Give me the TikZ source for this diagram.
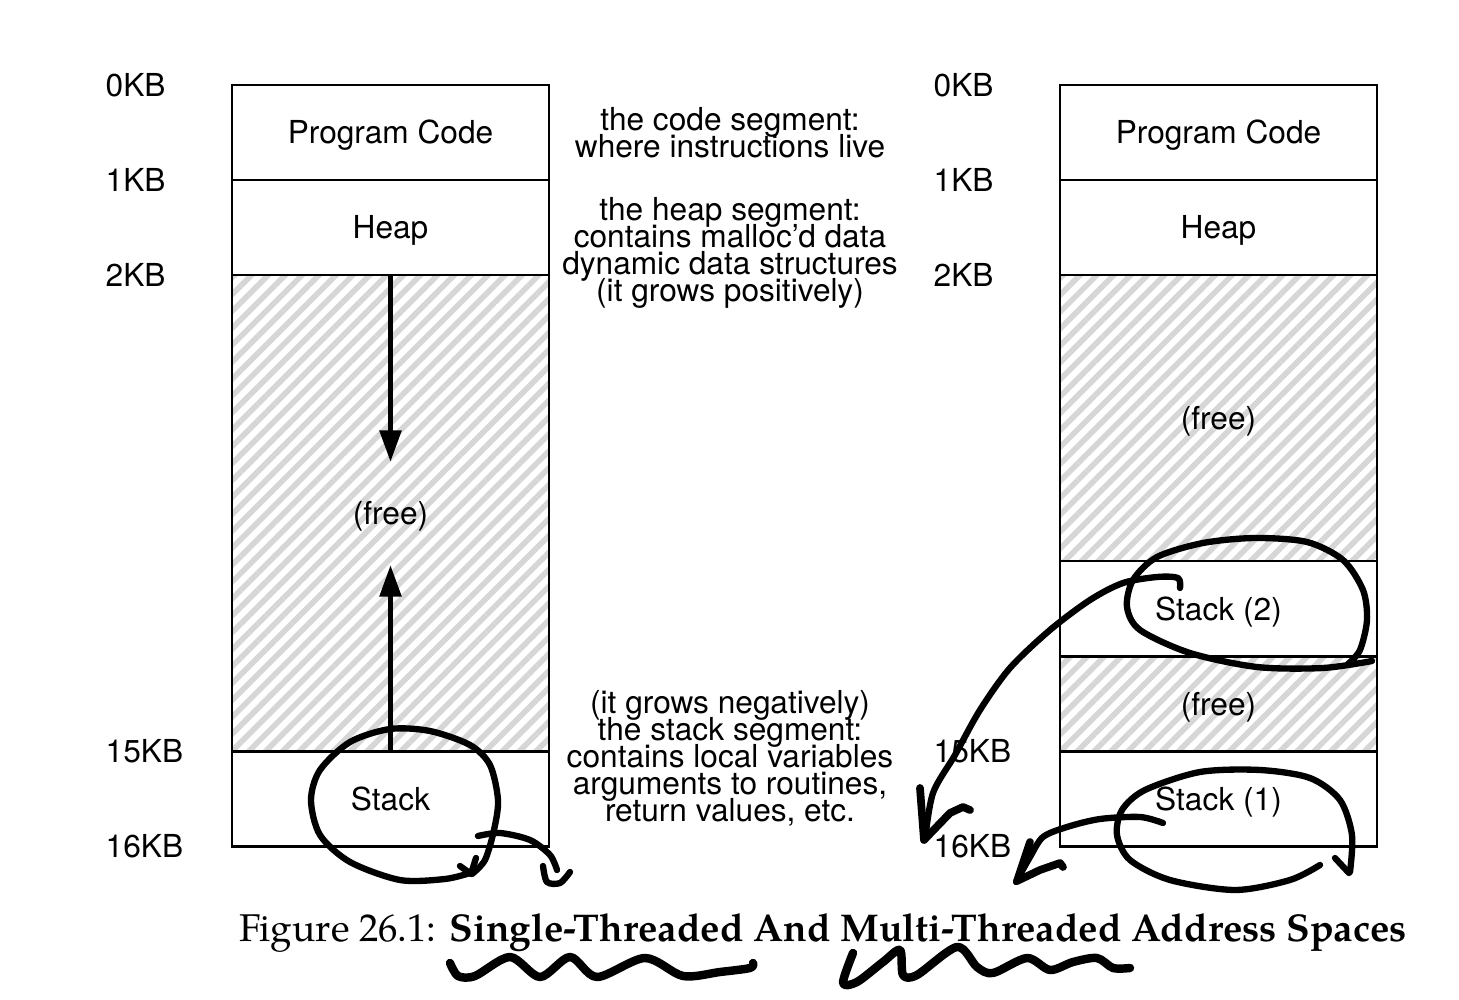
\documentclass[tikz,border=0pt]{standalone}
\usepackage{fontspec}
\setmainfont{TeX Gyre Heros}
\newfontfamily\capfont{TeX Gyre Pagella}
\usetikzlibrary{arrows.meta,patterns.meta,positioning}
\newcommand\notefont{\fontsize{9}{7.7}\selectfont\lineskiplimit=-6pt\relax}
\tikzset{
  seg/.style={draw, line width=0.7pt, minimum width=3.17cm, outer sep=0pt, inner sep=0pt, text height=6.5pt, text depth=0pt, font=\fontsize{9}{8}\selectfont},
  freeseg/.style={seg, pattern={Lines[angle=45,distance=3.4pt,line width=1.6pt]}, pattern color=gray!32},
  kb/.style={anchor=west, inner sep=0pt, font=\fontsize{9}{8}\selectfont},
  note/.style={align=center, inner sep=0pt, font=\notefont},
  growarrow/.style={line width=1.5pt, -{Triangle[length=9pt,width=6pt]}},
  scribble/.style={line width=1.8pt, line cap=round, line join=round},
}
\begin{document}
\begin{tikzpicture}[x=0.01cm, y=-0.01cm]
    \useasboundingbox (0,0) rectangle (1459,1000);
    \begin{scope}
      % single-threaded address space
      \node[seg, minimum height=0.95cm] (lcode) at (390.5,132.5) {Program Code};
      \node[seg, minimum height=0.95cm, below=0pt of lcode] (lheap) {Heap};
      \node[freeseg, minimum height=4.76cm, below=0pt of lheap] (lfree) {(free)};
      \node[seg, minimum height=0.95cm, below=0pt of lfree] (lstack) {Stack};

      \coordinate (ldown) at (390.5,462);
      \coordinate (lup) at (390.5,565);
      \draw[growarrow] (lheap.south) -- (ldown);
      \draw[growarrow] (lstack.north) -- (lup);

      \node[kb] (l0) at (105,85) {0KB};
      \node[kb] (l1) at (105,180) {1KB};
      \node[kb] (l2) at (105,275) {2KB};
      \node[kb] (l15) at (105,751) {15KB};
      \node[kb] (l16) at (105,846) {16KB};
    \end{scope}

    \node[note] (codenote) at (730,133) {the code segment:\\where instructions live};
    \node[note] (heapnote) at (730,253) {the heap segment:\\contains malloc’d data\\dynamic data structures\\(it grows positively)};
    \node[note] (stacknote) at (730,758) {(it grows negatively)\\the stack segment:\\contains local variables\\arguments to routines,\\return values, etc.};

    \begin{scope}
      % multi-threaded address space
      \node[seg, minimum height=0.95cm] (rcode) at (1218.5,132.5) {Program Code};
      \node[seg, minimum height=0.95cm, below=0pt of rcode] (rheap) {Heap};
      \node[freeseg, minimum height=2.86cm, below=0pt of rheap] (rfree) {(free)};
      \node[seg, minimum height=0.95cm, below=0pt of rfree] (rstacktwo) {Stack (2)};
      \node[freeseg, minimum height=0.95cm, below=0pt of rstacktwo] (rfreetwo) {(free)};
      \node[seg, minimum height=0.95cm, below=0pt of rfreetwo] (rstackone) {Stack (1)};

      \node[kb] (r0) at (933,85) {0KB};
      \node[kb] (r1) at (933,180) {1KB};
      \node[kb] (r2) at (933,275) {2KB};
      \node[kb] (r15) at (933,751) {15KB};
      \node[kb] (r16) at (933,846) {16KB};
    \end{scope}

    \node[anchor=base, inner sep=0pt, font=\capfont\fontsize{11}{12}\selectfont] (caption) at (823,941)
      {Figure 26.1: \textbf{Single-Threaded And Multi-Threaded Address Spaces}};

    % hand-drawn marks
    \draw[scribble] plot[smooth] coordinates {(472,874) (485,860) (494,830) (498,800) (490,765) (470,745) (430,731) (390,729) (350,742) (320,770) (311,800) (320,835) (350,862) (400,880) (445,879) (470,873)};
    \draw[scribble] (460,866) -- (471,874) -- (476,858);
    \draw[scribble] plot[smooth] coordinates {(478,836) (500,833) (530,840) (550,855) (557,870)};
    \draw[scribble] plot[smooth] coordinates {(543,866) (547,882) (560,883) (570,872)};

    \draw[scribble] plot[smooth] coordinates {(1372,661) (1323,668) (1257,667) (1190,653) (1140,630) (1127,607) (1133,580) (1157,557) (1203,543) (1255,538) (1307,542) (1343,560) (1363,590) (1367,620) (1360,650) (1348,664)};
    \draw[scribble] plot[smooth] coordinates {(1180,588) (1178,578) (1157,577) (1123,583) (1090,600) (1050,630) (1010,668) (980,710) (955,755) (933,793) (925,840)};
    \draw[scribble, line width=2.2pt] (920,788) -- (924,840) -- (950,813) -- (963,807) -- (970,810);

    \draw[scribble] plot[smooth] coordinates {(1320,865) (1290,880) (1235,890) (1170,880) (1130,860) (1117,835) (1122,810) (1145,790) (1200,772) (1260,770) (1310,778) (1340,800) (1352,835) (1350,872)};
    \draw[scribble] (1335,858) -- (1349,873);
    \draw[scribble] plot[smooth] coordinates {(1163,823) (1140,817) (1100,819) (1067,827) (1043,837) (1030,857) (1016,882)};
    \draw[scribble, line width=2.2pt] (1030,842) -- (1017,881) -- (1040,870) -- (1060,863) -- (1063,867);

    \draw[scribble, line width=2.4pt] plot[smooth] coordinates {(450,963) (458,976) (475,976) (510,957) (540,977) (570,957) (597,977) (645,958) (683,976) (720,972) (750,968) (753,963)};
    \draw[scribble, line width=2.4pt] plot[smooth] coordinates {(853,953) (843,983) (857,982) (883,962) (900,950) (903,975) (917,975) (957,947) (977,967) (993,973) (1027,958) (1050,970) (1073,962) (1097,958) (1113,968) (1130,968)};
\end{tikzpicture}
\end{document}
